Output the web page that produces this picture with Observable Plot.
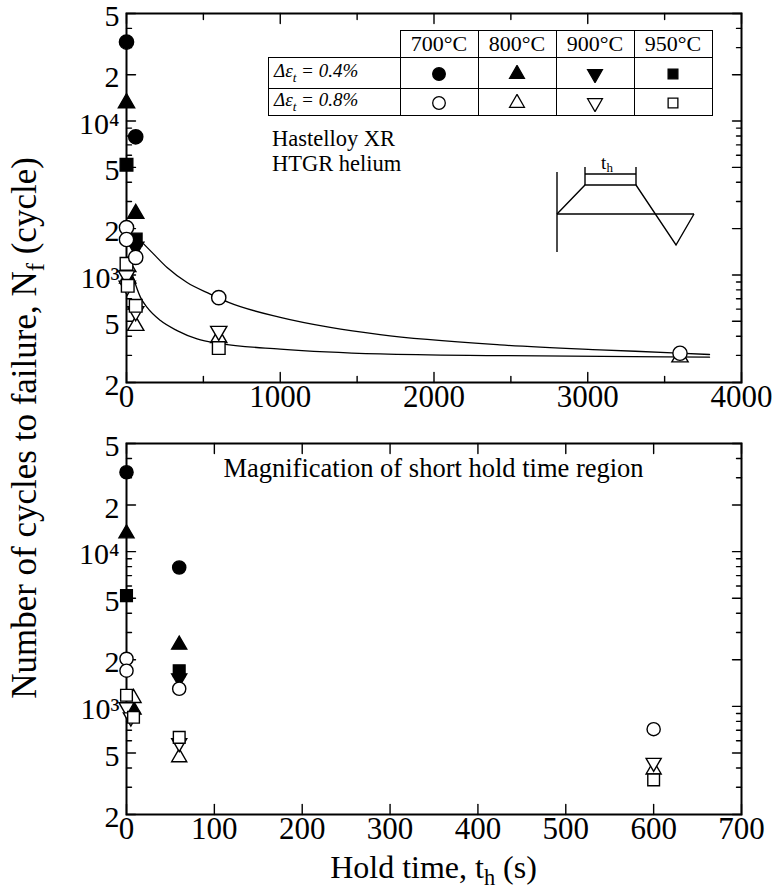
<!DOCTYPE html>
<html><head><meta charset="utf-8">
<script src="https://cdn.jsdelivr.net/npm/d3@7"></script>
<script src="https://cdn.jsdelivr.net/npm/@observablehq/plot@0.6"></script>
<style>
body{margin:0;background:#fff;}
#wrap{position:relative;width:779px;height:893px;font-family:"Liberation Serif","DejaVu Serif",serif;color:#000;overflow:hidden;}
#wrap > svg{position:absolute;left:0;}
.abs{position:absolute;white-space:nowrap;line-height:1;}
table.lg{position:absolute;left:268px;top:30px;border-collapse:collapse;font-family:"Liberation Serif","DejaVu Serif",serif;}
table.lg td{border:1.5px solid #000;text-align:center;padding:0;background:#fff;}
table.lg td.blank{border:none;background:transparent;}
table.lg tr.h td{height:26px;font-size:22px;}
table.lg tr.r1 td{height:30px;}
table.lg tr.r2 td{height:26px;}
table.lg td.lab{font-size:19px;font-style:italic;text-align:left;padding-left:5px;}
sub{font-size:70%;}
</style></head><body><div id="wrap"></div>
<script>
// ---------- data ----------
const yTickValues = [200, 500, 1000, 2000, 5000, 10000, 20000, 50000];
const yTickLabels = ["2", "5", "10³", "2", "5", "10⁴", "2", "5"];
const yMinorTicks = [300, 400, 600, 700, 800, 900, 3000, 4000, 6000, 7000, 8000, 9000, 30000, 40000];
const xTicksTop = [0, 1000, 2000, 3000, 4000];
const xMinorTop = [500, 1500, 2500, 3500];
const xTicksBottom = [0, 100, 200, 300, 400, 500, 600, 700];
const temperatures = ["700°C", "800°C", "900°C", "950°C"];
const strainLabels = ["0.4%", "0.8%"];

// [hold time (s), cycles to failure]
const s700_04 = [[0, 32600], [60, 7900]];
const s800_04 = [[0, 13100], [60, 2500], [8, 950]];
const s900_04 = [[60, 1520]];
const s950_04 = [[0, 5200], [60, 1700]];
const s700_08 = [[0, 2030], [0, 1700], [60, 1300], [600, 712], [3600, 310]];
const s800_08 = [[8, 1130], [60, 468], [600, 390], [3600, 292]];
const s900_08 = [[0, 990], [5, 850], [60, 580], [600, 432]];
const s950_08 = [[0, 1180], [8, 850], [60, 630], [600, 335]];

// fitted curves
const curveUpper = [[113, 1585], [177, 1365], [264, 1117], [394, 893], [545, 751], [664, 663], [1000, 530], [1325, 456], [1649, 409], [2429, 351], [3078, 326], [3552, 312], [3792, 304]];
const curveLower = [[37, 1010], [91, 715], [134, 615], [221, 505], [329, 435], [459, 384], [610, 358], [1000, 330], [1649, 307], [2429, 299], [3792, 292]];

(function () {
const FONT = "Liberation Serif";
// ---------- helpers ----------
const sqrt3 = Math.sqrt(3);
const triDown = {draw(ctx, size) {
  const y = -Math.sqrt(size / (sqrt3 * 3));
  ctx.moveTo(0, -y * 2); ctx.lineTo(-sqrt3 * y, y); ctx.lineTo(sqrt3 * y, y); ctx.closePath();
}};
const tickShape = {draw(ctx, l) { ctx.moveTo(0, 0); ctx.lineTo(0, -l); }};

const seriesDefs = [
  [s700_04, d3.symbolCircle, true], [s800_04, d3.symbolTriangle, true],
  [s900_04, triDown, true], [s950_04, d3.symbolSquare, true],
  [s800_08, d3.symbolTriangle, false], [s900_08, triDown, false],
  [s950_08, d3.symbolSquare, false], [s700_08, d3.symbolCircle, false]
];

function ticksMarks(xMajor, xMinor) {
  const common = {stroke: "black", strokeWidth: 1.4, anchor: "start", shape: tickShape};
  return [
    Plot.vector(yTickValues, {...common, y: d => d, frameAnchor: "left", rotate: 90, length: 9}),
    Plot.vector(yMinorTicks, {...common, y: d => d, frameAnchor: "left", rotate: 90, length: 5}),
    Plot.vector(yTickValues, {...common, y: d => d, frameAnchor: "right", rotate: -90, length: 9}),
    Plot.vector(yMinorTicks, {...common, y: d => d, frameAnchor: "right", rotate: -90, length: 5}),
    Plot.vector(xMajor, {...common, x: d => d, frameAnchor: "bottom", rotate: 0, length: 10}),
    Plot.vector(xMinor, {...common, x: d => d, frameAnchor: "bottom", rotate: 0, length: 6}),
    Plot.vector(xMajor, {...common, x: d => d, frameAnchor: "top", rotate: 180, length: 10}),
    Plot.vector(xMinor, {...common, x: d => d, frameAnchor: "top", rotate: 180, length: 6})
  ];
}

function labelMarks(xTicks) {
  return [
    Plot.text(yTickValues, {y: d => d, text: (d, i) => yTickLabels[i], frameAnchor: "left", textAnchor: "end",
      dx: -7, dy: 3, fontSize: 30, fontFamily: FONT, fill: "black"}),
    Plot.text(xTicks, {x: d => d, text: d => String(d), frameAnchor: "bottom", lineAnchor: "top",
      dy: 2, fontSize: 31, fontFamily: FONT, fill: "black"})
  ];
}

function dotMarks(xmax, scaleR) {
  return seriesDefs.map(([data, sym, filled]) => Plot.dot(data.filter(d => d[0] <= xmax), {
    x: d => d[0], y: d => d[1], symbol: sym,
    r: (sym === d3.symbolTriangle || sym === triDown) ? 5.6 * scaleR : 6.6 * scaleR,
    fill: filled ? "black" : "white", stroke: "black", strokeWidth: 1.4
  }));
}

const yScale = {type: "log", domain: [200, 50000]};
const baseStyle = {fontFamily: FONT, background: "transparent", overflow: "visible"};

const topPlot = Plot.plot({
  width: 779, height: 420, marginLeft: 126, marginRight: 38, marginTop: 13, marginBottom: 38,
  style: baseStyle,
  x: {domain: [0, 4000], axis: null}, y: {...yScale, axis: null},
  marks: [
    Plot.frame({stroke: "black", strokeWidth: 2}),
    ...ticksMarks(xTicksTop, xMinorTop),
    ...labelMarks(xTicksTop),
    Plot.line(curveUpper, {x: d => d[0], y: d => d[1], curve: "monotone-x", stroke: "black", strokeWidth: 1.3}),
    Plot.line(curveLower, {x: d => d[0], y: d => d[1], curve: "monotone-x", stroke: "black", strokeWidth: 1.3}),
    ...dotMarks(4000, 1.08)
  ]
});
topPlot.style.top = "0px";

const bottomPlot = Plot.plot({
  width: 779, height: 473, marginLeft: 126, marginRight: 38, marginTop: 23, marginBottom: 79,
  style: baseStyle,
  x: {domain: [0, 700], axis: null}, y: {...yScale, axis: null},
  marks: [
    Plot.frame({stroke: "black", strokeWidth: 2}),
    ...ticksMarks(xTicksBottom, []),
    ...labelMarks(xTicksBottom),
    ...dotMarks(700, 1)
  ]
});
bottomPlot.style.top = "420px";

const wrap = document.getElementById("wrap");
wrap.append(topPlot, bottomPlot);

// ---------- legend table ----------
function symSvg(sym, filled) {
  const s = d3.create("svg").attr("width", 18).attr("height", 18).attr("viewBox", "-9 -9 18 18")
    .style("vertical-align", "middle");
  s.append("path").attr("d", d3.symbol(sym, sym === d3.symbolCircle ? 125 : 95)())
    .attr("fill", filled ? "black" : "white").attr("stroke", "black").attr("stroke-width", 1.3);
  return s.node().outerHTML;
}
const legendSyms = [d3.symbolCircle, d3.symbolTriangle, triDown, d3.symbolSquare];
let html = `<table class="lg"><tr class="h"><td class="blank" style="width:131px"></td>` +
  temperatures.map(t => `<td style="width:77px">${t}</td>`).join("") + `</tr>`;
strainLabels.forEach((s, k) => {
  html += `<tr class="r${k + 1}"><td class="lab">Δ<i>ε</i><sub>t</sub> = ${s}</td>` +
    legendSyms.map(sym => `<td>${symSvg(sym, k === 0)}</td>`).join("") + `</tr>`;
});
html += `</table>`;
wrap.insertAdjacentHTML("beforeend", html);

// ---------- annotations ----------
wrap.insertAdjacentHTML("beforeend", `
<div class="abs" style="left:272px;top:128px;font-size:22.5px;">Hastelloy XR</div>
<div class="abs" style="left:272px;top:153px;font-size:22.5px;">HTGR helium</div>
<div class="abs" style="left:126px;width:615px;text-align:center;top:455px;font-size:26.5px;">Magnification of short hold time region</div>
<div class="abs" style="left:126px;width:615px;text-align:center;top:851px;font-size:32px;">Hold time, t<sub>h</sub> (s)</div>
<div class="abs" style="left:28px;top:428px;font-size:35px;transform:translate(-50%,-50%) rotate(-90deg);">Number of cycles to failure, N<sub>f</sub> (cycle)</div>
<svg style="position:absolute;left:0;top:0;pointer-events:none" width="779" height="420">
  <g fill="none" stroke="black" stroke-width="1.4">
    <line x1="557" y1="172" x2="557" y2="252"/>
    <line x1="557" y1="214" x2="694" y2="214"/>
    <polyline points="557,214 585,185 636,185 676,245 694,214"/>
    <line x1="585" y1="167" x2="585" y2="185"/>
    <line x1="636" y1="167" x2="636" y2="185"/>
    <line x1="585" y1="174" x2="636" y2="174"/>
  </g>
  <text x="607" y="169" font-size="19" text-anchor="middle" font-family="Liberation Serif">t<tspan font-size="13" dy="3">h</tspan></text>
</svg>
`);
})();
</script></body></html>
